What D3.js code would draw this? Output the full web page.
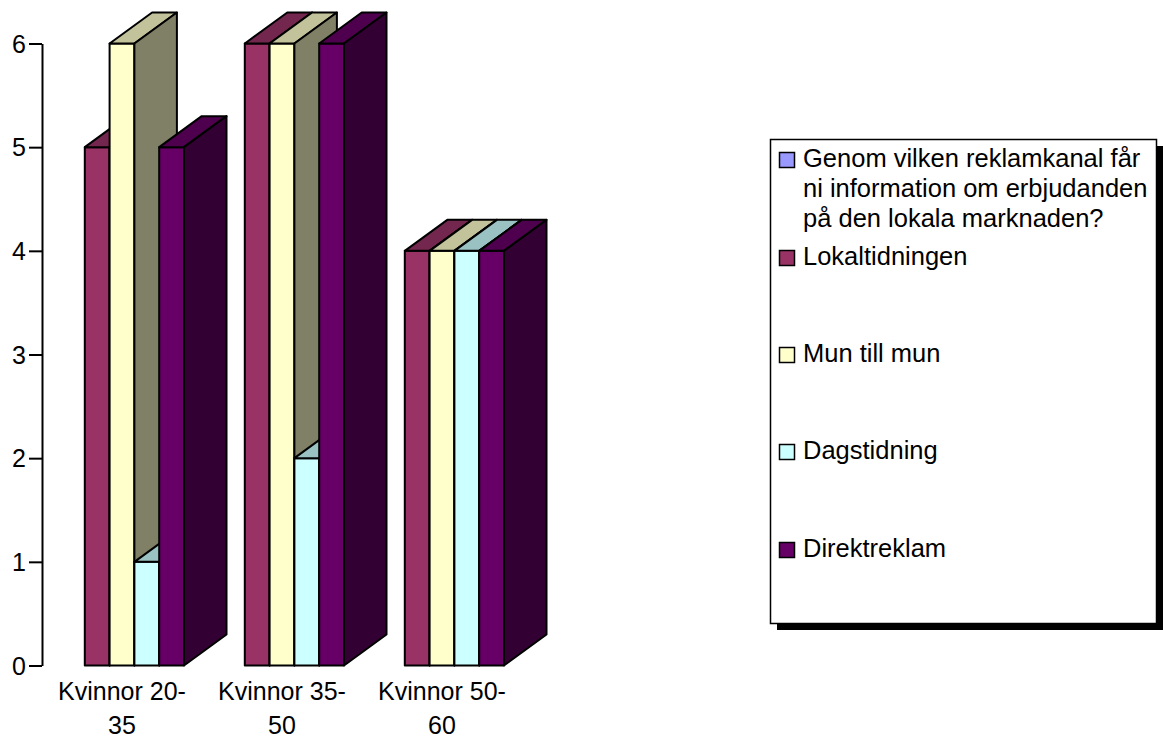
<!DOCTYPE html>
<html>
<head>
<meta charset="utf-8">
<script src="https://cdn.jsdelivr.net/npm/d3@7/dist/d3.min.js"></script>
<style>
  html, body { margin: 0; padding: 0; background: #ffffff; }
  svg { display: block; }
  text { font-family: "Liberation Sans", Arial, sans-serif; fill: #000; }
</style>
</head>
<body>
<svg id="chart" width="1163" height="744"></svg>
<script>
// Survey answers: number of respondents per advertising channel and age group
const categories = [["Kvinnor 20-", "35"], ["Kvinnor 35-", "50"], ["Kvinnor 50-", "60"]];
const seriesNames = [
  "Genom vilken reklamkanal får ni information om erbjudanden på den lokala marknaden?",
  "Lokaltidningen",
  "Mun till mun",
  "Dagstidning",
  "Direktreklam"
];
const questionValues = [null, null, null];
const lokaltidningenValues = [5, 6, 4];
const munTillMunValues = [6, 6, 4];
const dagstidningValues = [1, 2, 4];
const direktreklamValues = [5, 6, 4];
const yTicks = [0, 1, 2, 3, 4, 5, 6];

const seriesValues = [questionValues, lokaltidningenValues, munTillMunValues, dagstidningValues, direktreklamValues];
const seriesColors = ["#9999FF", "#993366", "#FFFFCC", "#CCFFFF", "#660066"];
const legendLines = [
  ["Genom vilken reklamkanal får", "ni information om erbjudanden", "på den lokala marknaden?"],
  ["Lokaltidningen"], ["Mun till mun"], ["Dagstidning"], ["Direktreklam"]
];

const svg = d3.select("#chart");
const catKeys = categories.map(c => c.join(""));

const y = d3.scaleLinear().domain([0, 6]).range([665.5, 43.5]);
const x = d3.scaleBand().domain(catKeys).range([42, 522]).paddingInner(0.225).paddingOuter(0.1125);
const xs = d3.scaleBand().domain(seriesNames).range([0, x.bandwidth()]);

// depth offset of the 3D boxes
const dx = 42.5, dy = -31;

function shade(c, k) {
  const r = d3.rgb(c);
  return d3.rgb(r.r * k, r.g * k, r.b * k).formatHex();
}

// y axis
const yAxis = d3.axisLeft(y).tickValues(yTicks).tickSize(13).tickSizeOuter(0).tickPadding(3).tickFormat(d3.format("d"));
const ga = svg.append("g").attr("transform", "translate(42,0)").call(yAxis);
ga.select(".domain").attr("stroke", "#000").attr("stroke-width", 2);
ga.selectAll(".tick line").attr("stroke", "#000").attr("stroke-width", 2);
ga.selectAll(".tick text").attr("font-size", 25).attr("font-family", "Liberation Sans, Arial, sans-serif").attr("fill", "#000").attr("dy", "0.35em");

// bars: front, top and side faces, drawn left to right so later bars overlap earlier sides
const bars = svg.append("g");
catKeys.forEach((ck, ci) => {
  seriesNames.forEach((sn, si) => {
    const v = seriesValues[si][ci];
    if (v === null || v === undefined) return;
    const x0 = x(ck) + xs(sn);
    const x1 = x0 + xs.bandwidth();
    const y0 = y(0), y1 = y(v);
    const col = seriesColors[si];
    const g = bars.append("g").attr("stroke", "#000").attr("stroke-width", 2).attr("stroke-linejoin", "round");
    g.append("rect").attr("x", x0).attr("y", y1).attr("width", x1 - x0).attr("height", y0 - y1).attr("fill", col);
    g.append("polygon")
      .attr("points", [[x0, y1], [x0 + dx, y1 + dy], [x1 + dx, y1 + dy], [x1, y1]].map(p => p.join(",")).join(" "))
      .attr("fill", shade(col, 0.76));
    g.append("polygon")
      .attr("points", [[x1, y1], [x1 + dx, y1 + dy], [x1 + dx, y0 + dy], [x1, y0]].map(p => p.join(",")).join(" "))
      .attr("fill", shade(col, 0.5));
  });
});

// category labels
const xl = svg.append("g");
catKeys.forEach((ck, ci) => {
  const t = xl.append("text").attr("x", x(ck) + x.bandwidth() / 2).attr("y", 700)
    .attr("text-anchor", "middle").attr("font-size", 25);
  categories[ci].forEach((line, li) => {
    t.append("tspan").attr("x", x(ck) + x.bandwidth() / 2).attr("dy", li === 0 ? 0 : 34).text(line);
  });
});

// legend with drop shadow
const lg = svg.append("g");
lg.append("rect").attr("x", 777).attr("y", 146).attr("width", 386).attr("height", 484).attr("fill", "#000");
lg.append("rect").attr("x", 770.5).attr("y", 139.5).attr("width", 386).attr("height", 484)
  .attr("fill", "#fff").attr("stroke", "#000").attr("stroke-width", 1.5);
const legendBaselines = [167, 265, 362, 459, 557];
seriesNames.forEach((sn, si) => {
  const by = legendBaselines[si];
  lg.append("rect").attr("x", 779.5).attr("y", by - 14.5).attr("width", 15).attr("height", 15)
    .attr("fill", seriesColors[si]).attr("stroke", "#000").attr("stroke-width", 1.5);
  const t = lg.append("text").attr("x", 803).attr("y", by).attr("font-size", 25.5);
  legendLines[si].forEach((line, li) => {
    t.append("tspan").attr("x", 803).attr("dy", li === 0 ? 0 : 30).text(line);
  });
});
</script>
</body>
</html>
